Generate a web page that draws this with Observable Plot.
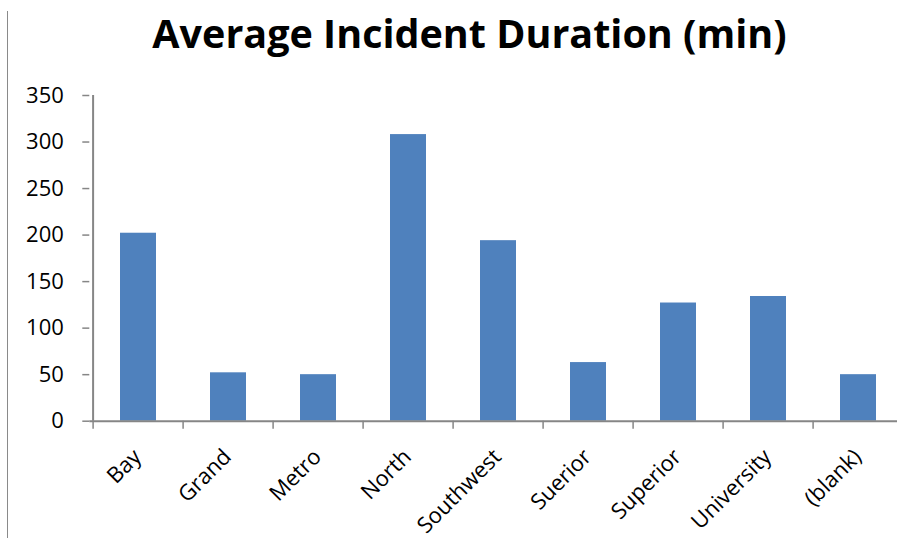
<!DOCTYPE html>
<html>
<head>
<meta charset="utf-8">
<script src="https://cdn.jsdelivr.net/npm/d3@7"></script>
<script src="https://cdn.jsdelivr.net/npm/@observablehq/plot@0.6"></script>
<style>
  html, body { margin: 0; padding: 0; background: #fff; }
  #wrap { position: relative; width: 897px; height: 538px; overflow: hidden; font-family: "Open Sans", sans-serif; }
  #edge { position: absolute; left: 7px; top: 11px; bottom: 0; width: 1px; background: #8a8a8a; }
  #title { position: relative; height: 60px; }
  #title span { position: absolute; left: 42px; right: 0; top: 6px; text-align: center;
    font-size: 39.5px; line-height: 54px; font-weight: 700; color: #000; white-space: nowrap; }
  #chart svg { display: block; }
</style>
</head>
<body>
<div id="wrap">
  <div id="edge"></div>
  <div id="title"><span>Average Incident Duration (min)</span></div>
  <div id="chart"></div>
</div>
<script>
// Regions and their average incident duration in minutes
const regions = ["Bay", "Grand", "Metro", "North", "Southwest", "Suerior", "Superior", "University", "(blank)"];
const minutes = [202, 52, 50, 308, 194, 63, 127, 134, 50];
const yTicks = [0, 50, 100, 150, 200, 250, 300, 350];

const data = regions.map((region, i) => ({region, minutes: minutes[i]}));

const axisColor = "#868686";
const width = 897, height = 478;
const marginLeft = 89.3, marginTop = 35, marginBottom = 117.3;
const xRange = [marginLeft, 906.5];
const step = (xRange[1] - xRange[0]) / regions.length;
const plotHeight = height - marginTop - marginBottom;
const yMax = 350;
const tickUnits = 8 * yMax / plotHeight; // 8px tick marks below the category axis

const chart = Plot.plot({
  width, height,
  marginLeft, marginTop, marginBottom, marginRight: 0,
  style: {fontFamily: "'Open Sans', sans-serif", fontSize: "22px", color: "#000", background: "#fff"},
  x: {domain: regions, range: xRange, paddingInner: 0.604, paddingOuter: 0.302, axis: null},
  y: {domain: [0, yMax], axis: null},
  marks: [
    Plot.barY(data, {x: "region", y: "minutes", fill: "#4F81BD"}),
    // value axis
    Plot.axisY({ticks: yTicks, tickSize: 7, tickPadding: 19, stroke: axisColor, strokeWidth: 1.5,
      fontSize: 22, fill: "#000", label: null, tickFormat: d => d}),
    Plot.ruleX([regions[0]], {x: d => d, dx: -step / 2, y1: 0, y2: yMax, stroke: axisColor, strokeWidth: 2}),
    // category axis line and tick marks on category boundaries
    Plot.ruleY([0], {stroke: axisColor, strokeWidth: 2}),
    Plot.ruleX(regions, {x: d => d, dx: -step / 2, y1: 0, y2: -tickUnits, stroke: axisColor, strokeWidth: 1.5}),
    // rotated category labels
    Plot.text(regions, {x: d => d, text: d => d, frameAnchor: "bottom", rotate: -45,
      textAnchor: "end", lineAnchor: "top", dx: -7, dy: 26, fontSize: 22, fill: "#000"})
  ]
});

document.getElementById("chart").append(chart);
</script>
</body>
</html>
